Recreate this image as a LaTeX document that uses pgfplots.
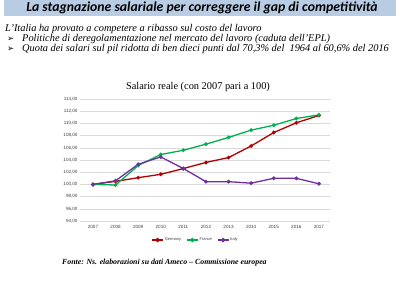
\documentclass[border=0pt]{standalone}
\usepackage{fontspec}
\setmainfont{Liberation Serif}
\newfontfamily\calib{Carlito}
\newfontfamily\dejavu{DejaVu Sans}
\newfontfamily\sans{Liberation Sans}
\usepackage{pgfplots}
\pgfplotsset{compat=1.18}
\definecolor{barblue}{HTML}{B8CCE4}
\definecolor{ger}{HTML}{B00000}
\definecolor{fra}{HTML}{00B050}
\definecolor{ita}{HTML}{7030A0}
\definecolor{gridc}{HTML}{D9D9D9}
\begin{document}
\begin{tikzpicture}[x=1bp,y=-1bp]
\path[use as bounding box, fill=white] (0,0) rectangle (400,286);
\fill[barblue] (4,0) rectangle (396,16);
\node[anchor=center, inner sep=0pt] at (202,8.3) {\calib\bfseries\itshape\fontsize{13.8}{15}\selectfont La stagnazione salariale per correggere il gap di competitività};
\node[anchor=base west, inner sep=0pt] at (5,31.5) {\itshape\fontsize{10.4}{12}\selectfont L'Italia ha provato a competere a ribasso sul costo del lavoro};
\node[anchor=base west, inner sep=0pt] at (7,41.5) {\dejavu\fontsize{8.5}{9}\selectfont ➢};
\node[anchor=base west, inner sep=0pt] at (22,41.5) {\itshape\fontsize{10.4}{12}\selectfont Politiche di deregolamentazione nel mercato del lavoro (caduta dell'EPL)};
\node[anchor=base west, inner sep=0pt] at (7,51.5) {\dejavu\fontsize{8.5}{9}\selectfont ➢};
\node[anchor=base west, inner sep=0pt] at (22,51.5) {\itshape\fontsize{10.4}{12}\selectfont Quota dei salari sul pil ridotta di ben dieci punti dal 70,3\% del\ \ 1964 al 60,6\% del 2016};
\node[anchor=center, inner sep=0pt] at (198,87) {\fontsize{10.4}{12}\selectfont Salario reale (con 2007 pari a 100)};
\node[anchor=base west, inner sep=0pt] at (62,264.5) {\bfseries\itshape\fontsize{7.85}{9}\selectfont Fonte: Ns. elaborazioni su dati Ameco -- Commissione europea};
\coordinate (A) at (80,221);
\begin{axis}[
  at={(A)}, anchor=south west,
  scale only axis, width=250bp, height=122bp,
  xmin=-0.575, xmax=10.49, ymin=94, ymax=114,
  xtick={0,...,10},
  xticklabels={2007,2008,2009,2010,2011,2012,2013,2014,2015,2016,2017},
  ytick={94,96,...,114},
  ymajorgrids, grid style={gridc, line width=0.6pt},
  axis line style={draw=none},
  major tick length=0pt,
  tick label style={font=\sans\fontsize{4.6}{5}\selectfont, text=black!75},
  /pgf/number format/assume math mode=true,
  yticklabel style={/pgf/number format/.cd, fixed, fixed zerofill, precision=2, use comma, 1000 sep={}},
  yticklabel shift=-1bp,
  xticklabel shift=1bp,
  legend columns=3,
  legend style={at={(0.462,-0.156)}, anchor=center, draw=none, fill=none,
    font=\sans\fontsize{4}{5}\selectfont, text=black!75,
    /tikz/every even column/.append style={column sep=3bp},
    /tikz/every odd column/.append style={column sep=-1bp}},
  legend image code/.code={\draw[#1, line width=1.4pt] (0bp,0bp) -- (11bp,0bp); \path[#1, mark=*, mark size=1.5bp] plot coordinates {(5.5bp,0bp)};},
  every axis plot/.append style={line width=1.3pt, mark=*, mark size=1.2bp},
]
\addplot[ger, mark options={fill=ger}] coordinates {(0,100.0) (1,100.5) (2,101.1) (3,101.65) (4,102.6) (5,103.6) (6,104.4) (7,106.3) (8,108.5) (9,110.1) (10,111.3)};
\addlegendentry{Germany}
\addplot[fra, mark options={fill=fra}] coordinates {(0,100.0) (1,99.9) (2,103.1) (3,104.9) (4,105.6) (5,106.6) (6,107.7) (7,108.9) (8,109.7) (9,110.8) (10,111.4)};
\addlegendentry{France}
\addplot[ita, mark options={fill=ita}] coordinates {(0,100.0) (1,100.6) (2,103.3) (3,104.5) (4,102.6) (5,100.45) (6,100.45) (7,100.2) (8,101.0) (9,101.0) (10,100.1)};
\addlegendentry{Italy}
\end{axis}
\end{tikzpicture}
\end{document}
